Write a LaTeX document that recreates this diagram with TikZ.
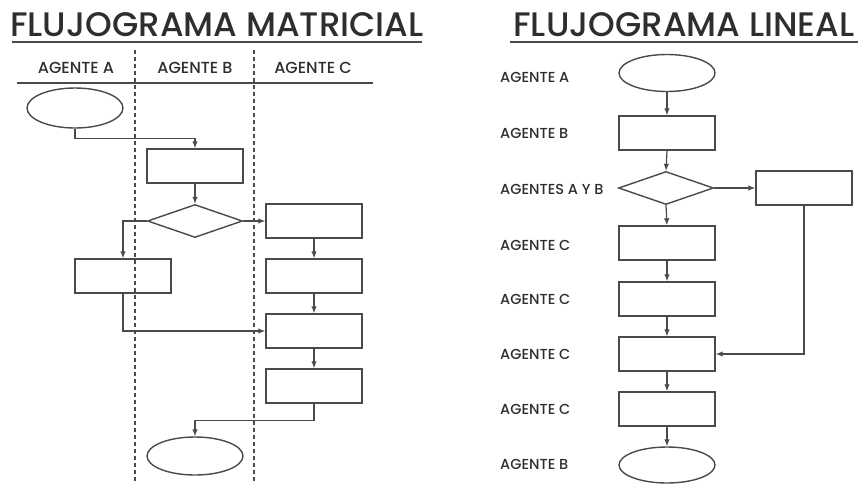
\documentclass[tikz,border=0pt]{standalone}
\usepackage{fontspec}
\setmainfont{Poppins}[UprightFont={Poppins Medium}]
\usetikzlibrary{shapes.geometric,arrows.meta}
\definecolor{linea}{HTML}{4A4A4A}
\definecolor{texto}{HTML}{2E2E2E}
\tikzset{
	caja/.style={draw=linea,line width=1.4pt,minimum width=96pt,minimum height=34pt,inner sep=0pt},
	ovalo/.style={ellipse,draw=linea,line width=1.4pt,minimum width=96pt,minimum height=38pt,inner sep=0pt},
	rombo/.style={diamond,draw=linea,line width=1.4pt,minimum width=95pt,minimum height=33pt,inner sep=0pt},
	flecha/.style={draw=linea,line width=1.2pt,-{Latex[length=7pt,width=5.5pt]}},
	titulo/.style={text=texto,font=\fontsize{34}{34}\selectfont,inner sep=0pt},
	cabecera/.style={text=texto,font=\fontsize{16}{16}\selectfont,inner sep=0pt},
	etiq/.style={text=texto,font=\fontsize{14.5}{14.5}\selectfont,inner sep=0pt,anchor=west}
}
\begin{document}
\begin{tikzpicture}[x=1pt,y=-1pt]
	\useasboundingbox[fill=white] (0,0) rectangle (861,485);
	% titulos
	\node[titulo] (tmat) at (217,25) {FLUJOGRAMA MATRICIAL};
	\node[titulo] (tlin) at (684,25) {FLUJOGRAMA LINEAL};
	\draw[linea,line width=1.8pt] (12,42) -- (422,42);
	\draw[linea,line width=1.8pt] (510,42) -- (858,42);
	% flujograma matricial
	\draw[linea,line width=1.2pt,dash pattern=on 4pt off 3pt] (135,50) -- (135,482);
	\draw[linea,line width=1.2pt,dash pattern=on 4pt off 3pt] (254,50) -- (254,482);
	\draw[linea,line width=1.4pt] (17,83) -- (373,83);
	\foreach \x/\t [count=\i] in {76/AGENTE A,195/AGENTE B,313/AGENTE C}
	\node[cabecera] (ag\i) at (\x,68) {\t};
	\node[ovalo,minimum height=40pt] (ini) at (75,108) {};
	\node[caja] (m1) at (195,166) {};
	\node[rombo] (md) at (195,221) {};
	\node[caja] (m2) at (314,221) {};
	\node[caja] (m3) at (123,276) {};
	\node[caja] (m4) at (314,276) {};
	\node[caja] (m5) at (314,331) {};
	\node[caja] (m6) at (314,386) {};
	\node[ovalo] (fin) at (195,456) {};
	\draw[flecha] (ini.south) -- ++(0,10) -| (m1.north);
	\draw[flecha] (m1.south) -- (md.north);
	\draw[flecha] (md.east) -- (m2.west);
	\draw[flecha] (md.west) -| (m3.north);
	\foreach \a/\b in {m2/m4,m4/m5,m5/m6}
	\draw[flecha] (\a.south) -- (\b.north);
	\draw[flecha] (m3.south) |- (m5.west);
	\draw[flecha] (m6.south) -- ++(0,17) -| (fin.north);
	% flujograma lineal
	\foreach \y/\t [count=\i] in {77/AGENTE A,133/AGENTE B,189/AGENTES A Y B,245/AGENTE C,299/AGENTE C,354/AGENTE C,409/AGENTE C,464/AGENTE B}
	\node[etiq] (et\i) at (500,\y) {\t};
	\node[ovalo,minimum height=37pt] (la) at (667,73) {};
	\node[caja] (lb) at (667,133) {};
	\node[rombo] (ld) at (666,188) {};
	\node[caja] (ls) at (804,188) {};
	\node[caja] (lc1) at (667,243) {};
	\node[caja] (lc2) at (667,299) {};
	\node[caja] (lc3) at (667,354) {};
	\node[caja] (lc4) at (667,409) {};
	\node[ovalo,minimum height=36pt] (lf) at (667,465) {};
	\foreach \a/\b in {la/lb,lb/ld,ld/lc1,lc1/lc2,lc2/lc3,lc3/lc4,lc4/lf}
	\draw[flecha] (\a.south) -- (\b.north);
	\draw[flecha] (ld.east) -- (ls.west);
	\draw[flecha] (ls.south) |- (lc3.east);
\end{tikzpicture}
\end{document}
